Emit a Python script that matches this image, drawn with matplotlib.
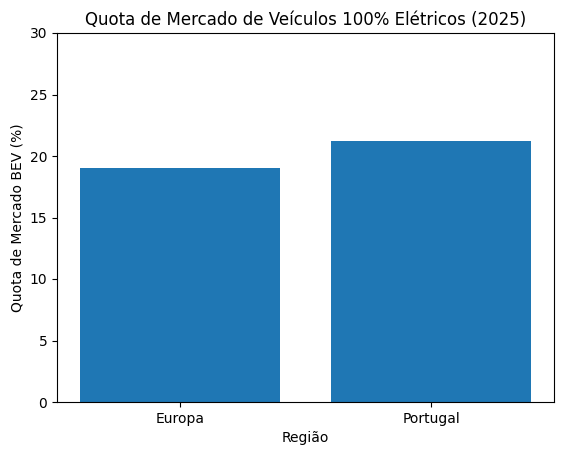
import matplotlib
matplotlib.use("Agg")
import matplotlib.pyplot as plt

regions = ["Europa", "Portugal"]
shares = [19.0, 21.2]

fig, ax = plt.subplots(figsize=(5.62, 4.55), dpi=100)
fig.subplots_adjust(left=57/562, right=554/562, top=1-33/455, bottom=1-402/455)
ax.bar(regions, shares, color="#1f77b4")
ax.set_ylim(0, 30)
ax.set_title("Quota de Mercado de Veículos 100% Elétricos (2025)")
ax.set_xlabel("Região")
ax.set_ylabel("Quota de Mercado BEV (%)")
fig.savefig("out.png", dpi=100)
